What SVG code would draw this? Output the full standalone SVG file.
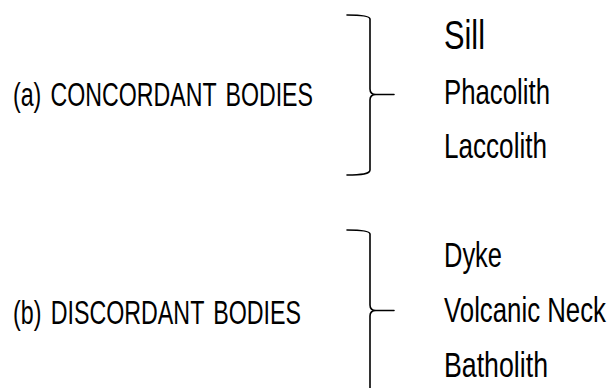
<svg xmlns="http://www.w3.org/2000/svg" width="612" height="388" viewBox="0 0 612 388">
  <style>
    .lbl { font-family: "Liberation Sans Narrow", "Liberation Sans", Arial, sans-serif; fill: #000; }
    .head { font-size: 33px; word-spacing: 4px; }
    .item { font-size: 35px; }
    .big { font-size: 41px; }
    .brace { fill: none; stroke: #000; stroke-width: 1.6; stroke-linecap: round; stroke-linejoin: round; }
  </style>

  <!-- braces joining each class to its members -->
  <g id="connectors">
    <path class="brace" d="M347,15 C362,15 370,16 370,19 V89 C370,93 372,94.5 376,94.5 H394 M376,94.5 C372,94.5 370,96 370,100 V170 C370,174 362,175 347,175"/>
    <path class="brace" d="M347,230 C362,230 370,231 370,234 V305 C370,309 372,310.5 376,310.5 H394 M376,310.5 C372,310.5 370,312 370,316 V390"/>
  </g>

  <g id="concordant">
    <text class="lbl head" x="13" y="106" textLength="300" lengthAdjust="spacingAndGlyphs">(a) CONCORDANT BODIES</text>
  </g>
  <g id="sill">
    <text class="lbl big" x="444" y="49" textLength="41" lengthAdjust="spacingAndGlyphs">Sill</text>
  </g>
  <g id="phacolith">
    <text class="lbl item" x="444" y="104" textLength="106" lengthAdjust="spacingAndGlyphs">Phacolith</text>
  </g>
  <g id="laccolith">
    <text class="lbl item" x="444" y="158" textLength="103" lengthAdjust="spacingAndGlyphs">Laccolith</text>
  </g>

  <g id="discordant">
    <text class="lbl head" x="13" y="324" textLength="288" lengthAdjust="spacingAndGlyphs">(b) DISCORDANT BODIES</text>
  </g>
  <g id="dyke">
    <text class="lbl item" x="444" y="267" textLength="58" lengthAdjust="spacingAndGlyphs">Dyke</text>
  </g>
  <g id="volcanic-neck">
    <text class="lbl item" x="606" y="322" text-anchor="end" textLength="162" lengthAdjust="spacingAndGlyphs">Volcanic Neck</text>
  </g>
  <g id="batholith">
    <text class="lbl item" x="444" y="377" textLength="104" lengthAdjust="spacingAndGlyphs">Batholith</text>
  </g>
</svg>
